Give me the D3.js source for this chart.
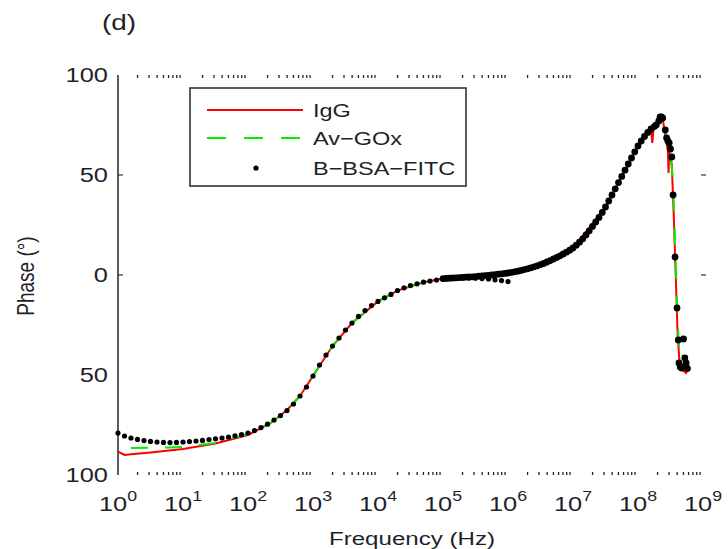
<!DOCTYPE html>
<html>
<head>
<meta charset="utf-8">
<script src="https://cdn.jsdelivr.net/npm/d3@7"></script>
<style>
  body { margin: 0; background: #fff; }
  text { font-family: "Liberation Sans", Arial, sans-serif; fill: #1f1f2a; }
</style>
</head>
<body>
<div id="chart"></div>
<script>
// frequency as log10(Hz), phase in degrees
var bsaLowExp = [0,0.1,0.2,0.3,0.4,0.5,0.6,0.7,0.8,0.9,1,1.1,1.2,1.3,1.4,1.5,1.6,1.7,1.8,1.9,2,2.1,2.2,2.3,2.4,2.5,2.6,2.7,2.8,2.9,3,3.1,3.2,3.3,3.4,3.5,3.6,3.7,3.8,3.9,4,4.1,4.2,4.3,4.4,4.5,4.6,4.7,4.8,4.9,5,5.1,5.2,5.3,5.4,5.5,5.6,5.7,5.8,5.9,6];
var bsaLowPhase = [-79,-80.5,-81.5,-82.2,-82.8,-83.2,-83.5,-83.7,-83.8,-83.7,-83.5,-83.3,-83,-82.7,-82.3,-81.9,-81.5,-81,-80.4,-79.8,-79,-77.8,-76.3,-74.6,-72.5,-70.3,-67.8,-64.5,-60.5,-56,-50.5,-45,-40,-35.5,-31.5,-27.5,-24,-20.7,-17.8,-15.3,-13.2,-11.4,-9.7,-7.8,-6.4,-5.3,-4.4,-3.6,-3,-2.5,-2.1,-1.8,-1.6,-1.5,-1.5,-1.6,-1.8,-2,-2.4,-2.8,-3.3];

var bsaHighExp = [5,5.05,5.1,5.15,5.2,5.25,5.3,5.35,5.4,5.45,5.5,5.55,5.6,5.65,5.7,5.75,5.8,5.85,5.9,5.95,6,6.05,6.1,6.15,6.2,6.25,6.3,6.35,6.4,6.45,6.5,6.55,6.6,6.65,6.7,6.75,6.8,6.85,6.9,6.95,7,7.05,7.1,7.15,7.2,7.25,7.3,7.35,7.4,7.45,7.5,7.55,7.6,7.65,7.7,7.75,7.8,7.85,7.9,7.95,8,8.05,8.1,8.15,8.2,8.25,8.28,8.32,8.34,8.36,8.38,8.42,8.44,8.46,8.48,8.5,8.52,8.54,8.57,8.6,8.62,8.63,8.65,8.67,8.7,8.72,8.74,8.76];
var bsaHighPhase = [-1.8,-1.7,-1.6,-1.5,-1.4,-1.3,-1.2,-1.1,-1,-0.9,-0.8,-0.6,-0.5,-0.3,-0.2,0,0.2,0.4,0.6,0.8,1,1.3,1.6,1.9,2.3,2.7,3.1,3.6,4.1,4.6,5.2,5.8,6.5,7.2,8,8.8,9.6,10.5,11.4,12.4,13.5,14.9,16.4,18.1,20,22.1,24.3,26.5,28.8,31.3,34,37,40,43.1,46.2,49.3,52.4,55.5,58.5,61.6,64.5,67,69.3,71.3,73,74.2,75,77,79,79,78.5,72.5,68.5,67,66,63,59,40,9,-16.5,-32.5,-44,-46,-46.5,-32,-41.5,-44,-46.7];

var iggExp = [0,0.1,0.2,0.5,1,1.5,2,2.35,2.6,2.8,3,3.3,3.6,4,4.3,4.7,5,5.5,6,6.5,7,7.5,8,8.2,8.22,8.24,8.3,8.34,8.38,8.42,8.46,8.47,8.48,8.52,8.55,8.58,8.61,8.64,8.67,8.7,8.74,8.77];
var iggPhase = [-88.3,-90,-89.6,-88.7,-87,-84.2,-80,-74,-67.5,-60.5,-50.5,-35.5,-24,-13.2,-7.8,-3.6,-1.8,-0.8,1,5.2,13.5,34,64.5,73,66,73.5,76,78.5,78,70,62,51,62,55,30,0,-30,-44,-47,-48,-49,-47];

var goxExp = [0.2,0.5,0.8,1,1.5,2,2.35,2.6,2.8,3,3.3,3.6,4,4.3,4.7,5,5.5,6,6.5,7,7.5,8,8.2,8.3,8.34,8.38,8.42,8.46,8.5,8.54,8.58,8.62,8.65,8.68,8.72,8.75];
var goxPhase = [-86.5,-86.3,-86.2,-86,-84,-79.5,-74,-67.8,-60.5,-50.5,-35.5,-24,-13.2,-7.8,-3.6,-1.8,-0.8,1,5.2,13.5,34,64.5,73,76,78.5,78,72,66,62,45,5,-30,-42,-44,-46,-47];

var yTickValues = [100, 50, 0, -50, -100];
var yTickLabels = ["100", "50", "0", "50", "100"];
var xDecades = [0, 1, 2, 3, 4, 5, 6, 7, 8, 9];
var legendNames = ["IgG", "Av\u2212GOx", "B\u2212BSA\u2212FITC"];

var width = 728, height = 549;
var stretch = 1.27; // the reference text is widened
var svg = d3.select('#chart').append('svg')
	.attr('width', width)
	.attr('height', height);

var x = d3.scaleLog().domain([1, 1e9]).range([118, 703]);
var y = d3.scaleLinear().domain([-100, 100]).range([475, 75]);

function at(px, py) {
	return 'translate(' + px + ',' + py + ') scale(' + stretch + ',1)';
}

// left axis line
svg.append('line')
	.attr('x1', 118).attr('x2', 118)
	.attr('y1', y(100)).attr('y2', y(-100))
	.attr('stroke', '#333').attr('stroke-width', 1.6);

// major ticks that survive on both sides
[50, 0].forEach(function(v) {
	svg.append('line').attr('x1', 118).attr('x2', 123)
		.attr('y1', y(v)).attr('y2', y(v)).attr('stroke', '#333').attr('stroke-width', 1.2);
	svg.append('line').attr('x1', 701).attr('x2', 706)
		.attr('y1', y(v)).attr('y2', y(v)).attr('stroke', '#333').attr('stroke-width', 1.2);
});

// minor log ticks top and bottom
var minor = [];
xDecades.slice(0, 9).forEach(function(d) {
	for (var k = 2; k <= 9; k++) minor.push(k * Math.pow(10, d));
});
svg.selectAll('.mtop').data(minor).enter().append('line')
	.attr('x1', function(d) { return x(d); }).attr('x2', function(d) { return x(d); })
	.attr('y1', y(100)).attr('y2', y(100) + 3)
	.attr('stroke', '#222').attr('stroke-width', 1.3);
svg.selectAll('.mbot').data(minor).enter().append('line')
	.attr('x1', function(d) { return x(d); }).attr('x2', function(d) { return x(d); })
	.attr('y1', y(-100)).attr('y2', y(-100) - 3)
	.attr('stroke', '#222').attr('stroke-width', 1.3);

// y tick labels
svg.selectAll('.ylab').data(yTickValues).enter().append('text')
	.attr('transform', function(d) { return at(108, y(d) + 7); })
	.attr('text-anchor', 'end')
	.style('font-size', '20px')
	.text(function(d, i) { return yTickLabels[i]; });

// x tick labels 10^n
var xl = svg.selectAll('.xlab').data(xDecades).enter().append('text')
	.attr('transform', function(d) { return at(x(Math.pow(10, d)), 511); })
	.attr('text-anchor', 'middle')
	.style('font-size', '20px');
xl.append('tspan').text('10');
xl.append('tspan').attr('dy', -10).style('font-size', '14px').text(function(d) { return d; });

// axis titles
svg.append('text')
	.attr('transform', at(412, 545))
	.attr('text-anchor', 'middle')
	.style('font-size', '19px')
	.text('Frequency (Hz)');
svg.append('text')
	.attr('transform', 'translate(34,276) scale(' + stretch + ',1) rotate(-90)')
	.attr('text-anchor', 'middle')
	.style('font-size', '19px')
	.text('Phase (\u00b0)');
svg.append('text')
	.attr('transform', at(119, 30))
	.attr('text-anchor', 'middle')
	.style('font-size', '22px')
	.text('(d)');

function pts(ex, ph) {
	return ex.map(function(e, i) { return [Math.pow(10, e), ph[i]]; });
}
var line = d3.line()
	.x(function(d) { return x(d[0]); })
	.y(function(d) { return y(d[1]); });

svg.append('path')
	.attr('d', line(pts(iggExp, iggPhase)))
	.attr('fill', 'none').attr('stroke', '#ff0000').attr('stroke-width', 2);
svg.append('path')
	.attr('d', line(pts(goxExp, goxPhase)))
	.attr('fill', 'none').attr('stroke', '#00ee00').attr('stroke-width', 2)
	.attr('stroke-dasharray', '17,17');

svg.selectAll('.dlow').data(pts(bsaLowExp, bsaLowPhase)).enter().append('circle')
	.attr('cx', function(d) { return x(d[0]); })
	.attr('cy', function(d) { return y(d[1]); })
	.attr('r', 2.6)
	.attr('fill', '#000');
svg.selectAll('.dhigh').data(pts(bsaHighExp, bsaHighPhase)).enter().append('circle')
	.attr('cx', function(d) { return x(d[0]); })
	.attr('cy', function(d) { return y(d[1]); })
	.attr('r', 3.4)
	.attr('fill', '#000');

// legend
var lg = svg.append('g');
lg.append('rect')
	.attr('x', 190).attr('y', 88).attr('width', 276).attr('height', 98)
	.attr('fill', '#fff').attr('stroke', '#333').attr('stroke-width', 1.6);
var rows = [110, 138, 168];
lg.append('line').attr('x1', 207).attr('x2', 303).attr('y1', rows[0]).attr('y2', rows[0])
	.attr('stroke', '#ff0000').attr('stroke-width', 2);
lg.append('line').attr('x1', 207).attr('x2', 303).attr('y1', rows[1]).attr('y2', rows[1])
	.attr('stroke', '#00ee00').attr('stroke-width', 2).attr('stroke-dasharray', '19,18');
lg.append('circle').attr('cx', 256).attr('cy', rows[2]).attr('r', 2.6).attr('fill', '#000');
lg.selectAll('.lt').data(legendNames).enter().append('text')
	.attr('transform', function(d, i) { return at(313, rows[i] + 7); })
	.style('font-size', '18.5px')
	.text(function(d) { return d; });
</script>
</body>
</html>
